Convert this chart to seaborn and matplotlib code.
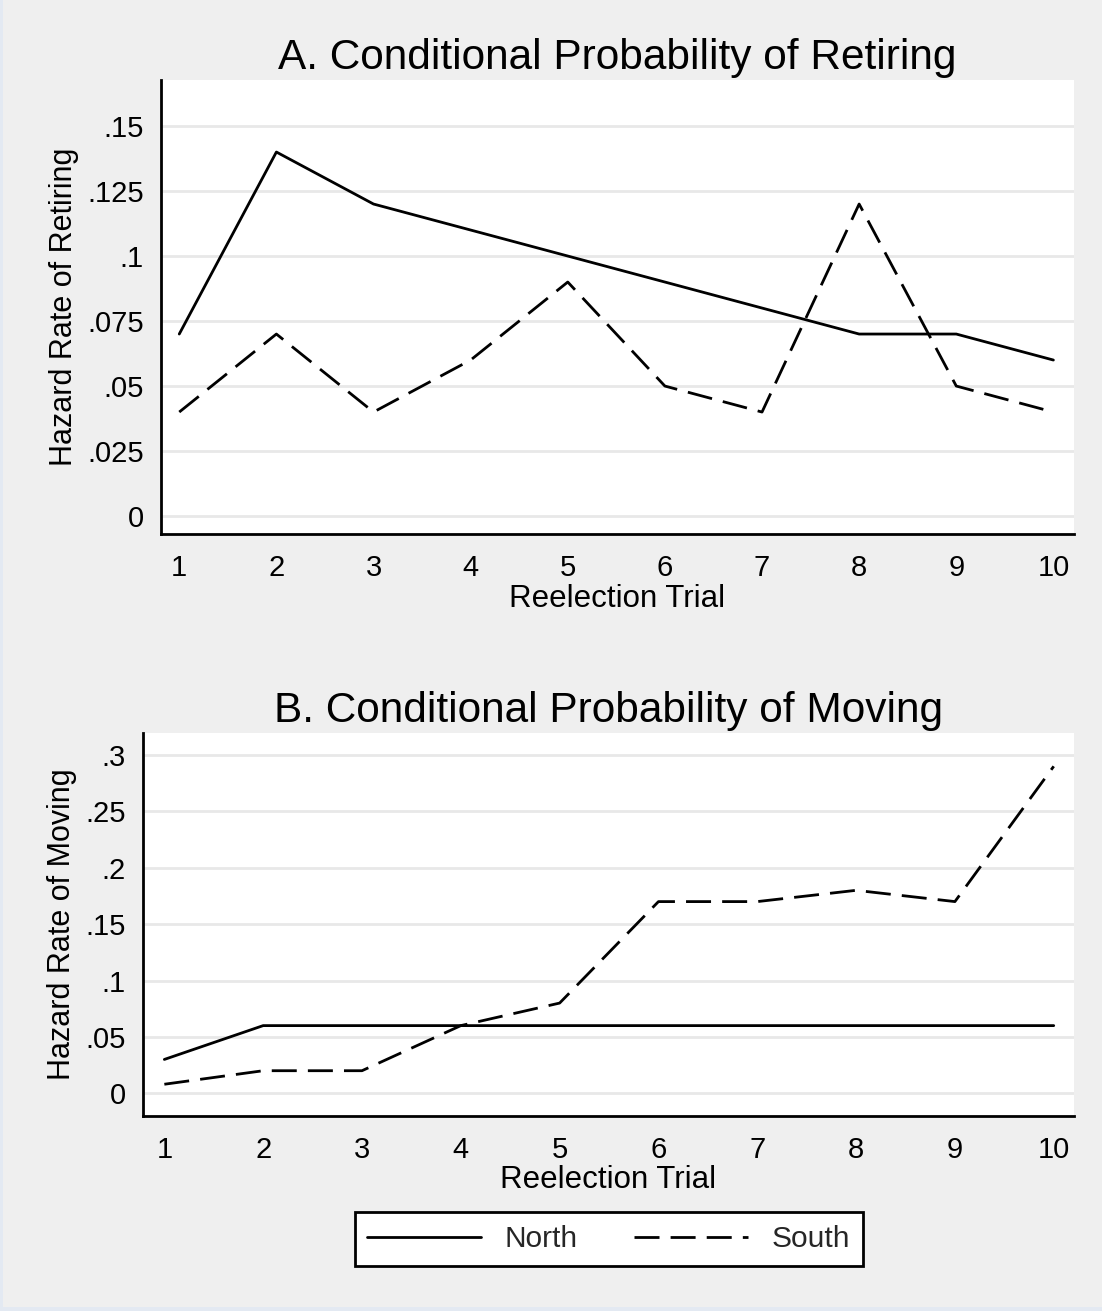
import matplotlib
matplotlib.use("Agg")
import matplotlib.pyplot as plt
import seaborn as sns
import pandas as pd
from matplotlib.patches import Rectangle
from matplotlib.lines import Line2D

trials = [1, 2, 3, 4, 5, 6, 7, 8, 9, 10]
retire_north = [0.07, 0.14, 0.12, 0.11, 0.10, 0.09, 0.08, 0.07, 0.07, 0.06]
retire_south = [0.04, 0.07, 0.04, 0.06, 0.09, 0.05, 0.04, 0.12, 0.05, 0.04]
move_north = [0.03, 0.06, 0.06, 0.06, 0.06, 0.06, 0.06, 0.06, 0.06, 0.06]
move_south = [0.008, 0.02, 0.02, 0.06, 0.08, 0.17, 0.17, 0.18, 0.17, 0.29]
regions = ["North", "South"]
retire_yticks = [0, 0.025, 0.05, 0.075, 0.1, 0.125, 0.15]
retire_ylabels = ["0", ".025", ".05", ".075", ".1", ".125", ".15"]
move_yticks = [0, 0.05, 0.1, 0.15, 0.2, 0.25, 0.3]
move_ylabels = ["0", ".05", ".1", ".15", ".2", ".25", ".3"]

sns.set_theme(style="white")
plt.rcParams["font.family"] = ["Liberation Sans", "DejaVu Sans"]

BG = "#efefef"
GRID = "#e8e8e8"
DASH = (9, 4)

def long_df(north, south):
    return pd.DataFrame({
        "trial": trials * 2,
        "value": list(north) + list(south),
        "region": [regions[0]] * len(trials) + [regions[1]] * len(trials),
    })

fig = plt.figure(figsize=(11.02, 13.11), dpi=100)
fig.patch.set_facecolor(BG)

W, H = 1102.0, 1311.0
ax1 = fig.add_axes([161 / W, 1 - 534 / H, (1073.5 - 161) / W, (534 - 80) / H])
ax2 = fig.add_axes([143.3 / W, 1 - 1115.7 / H, (1073.5 - 143.3) / W, (1115.7 - 732.7) / H])

dash_map = {"North": "", "South": DASH}

def style_axis(ax, df, yticks, ylabels, ylim, xlim, title, ylabel):
    ax.set_facecolor("white")
    for yv in yticks:
        ax.axhline(yv, color=GRID, lw=2.0, zorder=0)
    sns.lineplot(data=df, x="trial", y="value", style="region", dashes=dash_map,
                 color="black", linewidth=2.0, ax=ax, legend=False, zorder=3)
    ax.set_xlim(*xlim)
    ax.set_ylim(*ylim)
    ax.set_xticks(trials)
    ax.set_xticklabels([str(t) for t in trials])
    ax.set_yticks(yticks)
    ax.set_yticklabels(ylabels)
    ax.tick_params(axis="both", which="both", direction="out", length=8.5, width=1.5,
                   color="black", labelsize=21, labelcolor="black")
    ax.tick_params(axis="y", pad=4)
    ax.tick_params(axis="x", pad=6)
    for s in ["top", "right"]:
        ax.spines[s].set_visible(False)
    for s in ["left", "bottom"]:
        ax.spines[s].set_color("black")
        ax.spines[s].set_linewidth(2.0)
    ax.set_xlabel("Reelection Trial", fontsize=22.5, labelpad=1, color="black")
    ax.set_ylabel(ylabel, fontsize=22, labelpad=6, color="black")
    ax.set_title(title, fontsize=30.5, pad=8, color="black")

style_axis(ax1, long_df(retire_north, retire_south), retire_yticks, retire_ylabels,
           (-0.0069, 0.1677), (0.812, 10.207), "A. Conditional Probability of Retiring",
           "Hazard Rate of Retiring")
style_axis(ax2, long_df(move_north, move_south), move_yticks, move_ylabels,
           (-0.0199, 0.3198), (0.787, 10.2), "B. Conditional Probability of Moving",
           "Hazard Rate of Moving")

handles = [Line2D([], [], color="black", lw=2.0, linestyle="-"),
           Line2D([], [], color="black", lw=2.0, linestyle=(0, DASH))]
leg = fig.legend(handles, regions, loc="center", bbox_to_anchor=(608.6 / W, 1 - 1239 / H),
                 ncol=2, fontsize=21.5, frameon=True, fancybox=False, handlelength=3.8,
                 columnspacing=1.9, handletextpad=0.8, borderpad=0.42)
leg.get_frame().set_edgecolor("black")
leg.get_frame().set_linewidth(2.0)
leg.get_frame().set_facecolor("white")
leg.get_frame().set_alpha(1.0)

# thin light-blue frame strips (left and bottom)
fig.patches.append(Rectangle((0, 0), 3 / W, 1, transform=fig.transFigure,
                             facecolor="#e3e9f2", edgecolor="none", zorder=10))
fig.patches.append(Rectangle((0, 0), 1, 4 / H, transform=fig.transFigure,
                             facecolor="#e3e9f2", edgecolor="none", zorder=10))

fig.savefig("out.png", dpi=100, facecolor=BG)
